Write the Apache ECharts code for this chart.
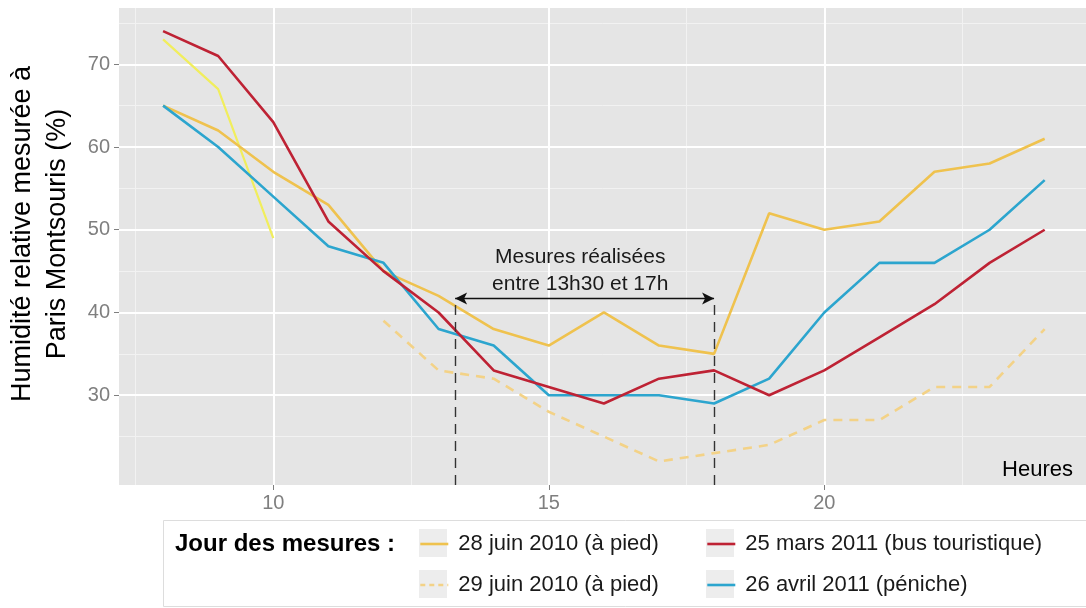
<!DOCTYPE html>
<html><head><meta charset="utf-8">
<script src="https://cdn.jsdelivr.net/npm/echarts@6/dist/echarts.min.js"></script>
<style>html,body{margin:0;padding:0;background:#fff}#c{width:1086px;height:608px}</style>
</head><body><div id="c"></div>
<script>
// ---- data ----
const hours = [8,9,10,11,12,13,14,15,16,17,18,19,20,21,22,23,24];
const juin28 = [65,62,57,53,45,42,38,36,40,36,35,52,50,51,57,58,61];
const juin29 = [null,null,null,null,39,33,32,28,25,22,23,24,27,27,31,31,38];
const mars25 = [74,71,63,51,45,40,33,31,29,32,33,30,33,37,41,46,50];
const avril26 = [65,60,54,48,46,38,36,30,30,30,29,32,40,46,46,50,56];
const extraHours = [8,9,10];
const extraLine = [73,67,49];
const xTicks = [10,15,20];
const yTicks = [30,40,50,60,70];
const xMinor = [7.5,12.5,17.5,22.5];
const yMinor = [25,35,45,55,65,75];
const windowStart = 13.3, windowEnd = 18, arrowLevel = 41.7;
const names = ['28 juin 2010 (à pied)','25 mars 2011 (bus touristique)','29 juin 2010 (à pied)','26 avril 2011 (péniche)'];

const FONT = 'Liberation Sans';
const zip = (xs, ys) => xs.map((x,i)=>[x, ys[i]]);
const X_MIN = 7.2, X_MAX = 24.75, Y_MIN = 19.15, Y_MAX = 76.8;
const C_JUIN28 = '#EFC24E', C_JUIN29 = '#F3D287', C_MARS = '#BE2234', C_AVRIL = '#2CA5CE', C_EXTRA = '#F1EE5C';

const chart = echarts.init(document.getElementById('c'), null, {renderer:'canvas'});

const gridLines = [];
xMinor.forEach(v=>gridLines.push({xAxis:v, lineStyle:{color:'#F2F2F2', width:1, type:'solid'}}));
yMinor.forEach(v=>gridLines.push({yAxis:v, lineStyle:{color:'#F2F2F2', width:1, type:'solid'}}));
xTicks.forEach(v=>gridLines.push({xAxis:v, lineStyle:{color:'#FFFFFF', width:2, type:'solid'}}));
yTicks.forEach(v=>gridLines.push({yAxis:v, lineStyle:{color:'#FFFFFF', width:2, type:'solid'}}));

const lineSeries = (name, data, color, extra) => Object.assign({
  name, type:'line', data, symbol:'none', showSymbol:false, connectNulls:false,
  lineStyle:{color, width:2.6}, itemStyle:{color}, z:3, silent:true
}, extra||{});

const legendBase = (name, left, top, lineType) => ({
  data:[name], left, top, orient:'horizontal', padding:0, itemWidth:28, itemHeight:14,
  selectedMode:false,
  itemStyle:{opacity:0, borderWidth:0},
  lineStyle:{width:2.6, type:lineType||'solid'},
  textStyle:{fontFamily:FONT, fontSize:22, color:'#1a1a1a', padding:[0,0,0,5]}
});

chart.setOption({
  animation:false,
  backgroundColor:'#FFFFFF',
  grid:{left:119, right:0, top:8, bottom:608-485, show:true, backgroundColor:'#E5E5E5', borderWidth:0, containLabel:false},
  xAxis:{type:'value', min:X_MIN, max:X_MAX,
    axisLine:{show:false}, splitLine:{show:false},
    axisTick:{show:true, customValues:xTicks, length:5, lineStyle:{color:'#7F7F7F', width:1}},
    axisLabel:{customValues:xTicks, color:'#7F7F7F', fontFamily:FONT, fontSize:20, margin:8}},
  yAxis:{type:'value', min:Y_MIN, max:Y_MAX,
    axisLine:{show:false}, splitLine:{show:false},
    axisTick:{show:true, customValues:yTicks, length:5, lineStyle:{color:'#7F7F7F', width:1}},
    axisLabel:{customValues:yTicks, color:'#7F7F7F', fontFamily:FONT, fontSize:20, margin:9}},
  legend:[
    legendBase(names[0], 419, 533),
    legendBase(names[1], 706, 533),
    legendBase(names[2], 419, 574, [5,4]),
    legendBase(names[3], 706, 574)
  ],
  graphic:[
    {type:'rect', z:-1, shape:{x:163.5, y:520.5, width:940, height:86}, style:{fill:'#FFFFFF', stroke:'#DDDDDD', lineWidth:1}},
    {type:'rect', z:0, shape:{x:419, y:529, width:28, height:28}, style:{fill:'#EDEDED'}},
    {type:'rect', z:0, shape:{x:706, y:529, width:28, height:28}, style:{fill:'#EDEDED'}},
    {type:'rect', z:0, shape:{x:419, y:570, width:28, height:28}, style:{fill:'#EDEDED'}},
    {type:'rect', z:0, shape:{x:706, y:570, width:28, height:28}, style:{fill:'#EDEDED'}},
    {type:'text', left:175, top:532, style:{text:'Jour des mesures :', fontFamily:FONT, fontWeight:'bold', fontSize:24, fill:'#000'}},
    {type:'text', x:1073, y:470, style:{text:'Heures', fontFamily:FONT, fontSize:22, fill:'#000', align:'right', verticalAlign:'middle'}},
    {type:'text', x:40, y:234, rotation:Math.PI/2,
      style:{text:'Humidité relative mesurée à\nParis Montsouris (%)', fontFamily:FONT, fontSize:27, lineHeight:35, fill:'#000', align:'center', verticalAlign:'middle'}}
  ],
  series:[
    {type:'line', data:[], silent:true, z:1,
      markLine:{silent:true, symbol:'none', label:{show:false}, animation:false, z:1, data:gridLines}},
    lineSeries('extra', zip(extraHours, extraLine), C_EXTRA, {lineStyle:{color:C_EXTRA, width:2.2}}),
    lineSeries(names[2], zip(hours, juin29), C_JUIN29, {lineStyle:{color:C_JUIN29, width:2.6, type:[9,7]}}),
    lineSeries(names[0], zip(hours, juin28), C_JUIN28),
    lineSeries(names[3], zip(hours, avril26), C_AVRIL),
    lineSeries(names[1], zip(hours, mars25), C_MARS),
    {type:'line', data:[], silent:true, z:5,
      markLine:{silent:true, animation:false, label:{show:false}, symbol:['none','none'],
        lineStyle:{color:'#333333', width:1.4, type:[10,7]},
        data:[
          [{coord:[windowStart, Y_MIN]},{coord:[windowStart, arrowLevel]}],
          [{coord:[windowEnd, Y_MIN]},{coord:[windowEnd, arrowLevel]}],
          [{coord:[windowStart, arrowLevel], symbol:'arrow', symbolSize:[9,12], lineStyle:{type:'solid', color:'#111', width:1.4}},
           {coord:[windowEnd, arrowLevel], symbol:'arrow', symbolSize:[9,12]}]
        ]},
      markPoint:{silent:true, animation:false, symbol:'circle', symbolSize:1, itemStyle:{color:'rgba(0,0,0,0)'},
        label:{show:true, position:'inside', formatter:'Mesures réalisées\nentre 13h30 et 17h', fontFamily:FONT, fontSize:21, lineHeight:27, color:'#1a1a1a', align:'center'},
        data:[{coord:[15.57, 45.1]}]}
    }
  ]
});
</script>
</body></html>
